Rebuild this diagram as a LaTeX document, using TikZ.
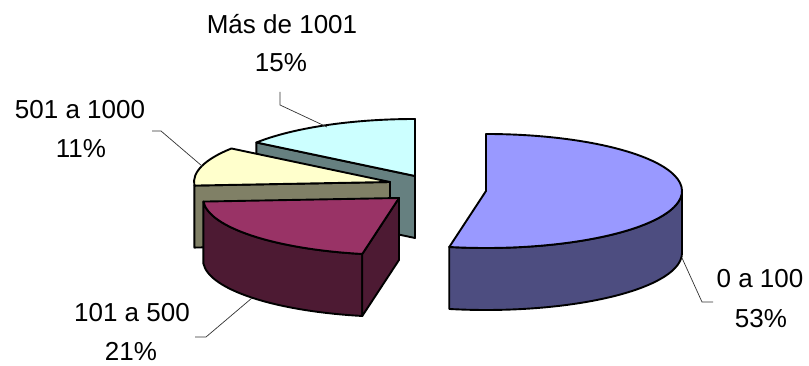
\documentclass[tikz,border=0pt]{standalone}
\usepackage{fontspec}
\setmainfont{Liberation Sans}
\usetikzlibrary{calc}
\definecolor{bluetop}{HTML}{9999FF}
\definecolor{blueside}{HTML}{4D4D80}
\definecolor{martop}{HTML}{993366}
\definecolor{marside}{HTML}{4D1A33}
\definecolor{yeltop}{HTML}{FFFFCC}
\definecolor{yelside}{HTML}{808066}
\definecolor{cyatop}{HTML}{CCFFFF}
\definecolor{cyaside}{HTML}{668080}
\tikzset{
  rad/.style={x radius=196pt,y radius=57pt},
  face/.style={draw=black,line width=1.9pt,line join=round},
  leader/.style={draw=black!80,line width=0.7pt},
  lbl/.style={anchor=base,inner sep=0pt,font=\fontsize{26}{30}\selectfont}
}
\begin{document}
\begin{tikzpicture}[x=1pt,y=1pt]
\useasboundingbox (0,0) rectangle (809,366);
% centres
\coordinate (C1) at (486,175);
\coordinate (C2) at (399,168);
\coordinate (C3) at (390,184);
\coordinate (C4) at (415,190);
% ---- cyan slice (Mas de 1001)
\coordinate (C4o) at ($(C4)+(144:196pt and 57pt)$);
\path[face,fill=cyaside] (C4) -- (C4o) -- ++(0,-62) -- ($(C4)+(0,-62)$) -- cycle;
\path[face,fill=cyatop] (C4) -- ++(90:196pt and 57pt) arc[rad,start angle=90,end angle=144] -- cycle;
% ---- yellow slice (501 a 1000)
\coordinate (C3o) at ($(C3)+(183.6:196pt and 57pt)$);
\path[face,fill=yelside] (C3) -- (C3o) -- ++(0,-62) -- ($(C3)+(0,-62)$) -- cycle;
\path[face,fill=yeltop] (C3) -- ++(144:196pt and 57pt) arc[rad,start angle=144,end angle=183.6] -- cycle;
% ---- maroon slice (101 a 500)
\coordinate (C2o) at ($(C2)+(259.2:196pt and 57pt)$);
\path[face,fill=marside] (C2) ++(183.6:196pt and 57pt) arc[rad,start angle=183.6,end angle=259.2] -- ++(0,-62) arc[rad,start angle=259.2,end angle=183.6] -- cycle;
\path[face,fill=marside] (C2) -- (C2o) -- ++(0,-62) -- ($(C2)+(0,-62)$) -- cycle;
\path[face,fill=martop] (C2) -- ++(183.6:196pt and 57pt) arc[rad,start angle=183.6,end angle=259.2] -- cycle;
% ---- blue slice (0 a 100)
\path[face,fill=blueside] (C1) ++(259.2:196pt and 57pt) arc[rad,start angle=259.2,end angle=360] -- ++(0,-62) arc[rad,start angle=360,end angle=259.2] -- cycle;
\path[face,fill=bluetop] (C1) -- ++(259.2:196pt and 57pt) arc[rad,start angle=259.2,end angle=450] -- cycle;
% ---- labels
\node[lbl] (l4a) at (282,332) {Más de 1001};
\node[lbl] (l4b) at (281,294) {15\%};
\node[lbl] (l3a) at (80,247) {501 a 1000};
\node[lbl] (l3b) at (81,208) {11\%};
\node[lbl] (l2a) at (132,44) {101 a 500};
\node[lbl] (l2b) at (131,5) {21\%};
\node[lbl] (l1a) at (760,78) {0 a 100};
\node[lbl] (l1b) at (761,38) {53\%};
% ---- leader lines
\coordinate (p4a) at (280,274); \coordinate (p4b) at (280,261); \coordinate (p4c) at (327,239);
\coordinate (p3a) at (152,235); \coordinate (p3b) at (161,235); \coordinate (p3c) at (202,200);
\coordinate (p2a) at (195,29);  \coordinate (p2b) at (206,29);  \coordinate (p2c) at (252,68);
\coordinate (p1a) at (682,108); \coordinate (p1b) at (702,64);  \coordinate (p1c) at (713,64);
\path[leader] (p4a) -- (p4b) -- (p4c);
\path[leader] (p3a) -- (p3b) -- (p3c);
\path[leader] (p2a) -- (p2b) -- (p2c);
\path[leader] (p1a) -- (p1b) -- (p1c);
\end{tikzpicture}
\end{document}
